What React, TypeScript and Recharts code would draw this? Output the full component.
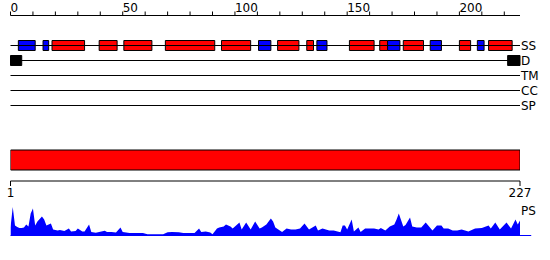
import React from "react";
import {
  ComposedChart,
  BarChart,
  Bar,
  AreaChart,
  Area,
  XAxis,
  YAxis,
  ReferenceArea,
  ReferenceLine,
} from "recharts";

// residue ruler on top
const rulerDomain = [0, 227];
const rulerTicks = [0, 10, 20, 30, 40, 50, 60, 70, 80, 90, 100, 110, 120, 130, 140, 150, 160, 170, 180, 190, 200, 210, 220];

// feature rows (top to bottom)
const rowNames = ["SS", "D", "TM", "CC", "SP"];
const rowLevels = [5, 4, 3, 2, 1];

// secondary structure: helices (red) and strands (blue), [start, end]
const helixSegments: [number, number][] = [
  [18.5, 33], [39.5, 47.5], [50.5, 63], [69, 91], [94, 107], [119, 128.5],
  [132, 135], [151, 162], [164.5, 168], [175, 184], [200, 205], [213, 223.5],
];
const strandSegments: [number, number][] = [
  [3.5, 11], [14.5, 17], [110.5, 116], [136.5, 141], [168, 173.5], [187, 192], [208, 211],
];
// disorder
const disorderSegments: [number, number][] = [[0, 5], [221.5, 227]];

// full sequence bar
const seqRange = [1, 227];
const seqTicks = [1, 227];

// PS profile
const psPositions = [
  0, 1, 2, 3, 4, 5, 6, 7, 8, 9, 10, 11, 12, 14, 15, 16, 18, 19, 21, 22, 24, 26, 27, 29, 30,
  32, 33, 35, 36, 38, 42, 43, 45, 47, 49, 50, 53, 56, 59, 61, 64, 68, 70, 72, 75, 77, 80, 82,
  84, 85, 87, 89, 90, 92, 93, 95, 96, 98, 99, 102, 103, 105, 107, 109, 111, 112, 114, 116, 117,
  118, 121, 123, 125, 127, 129, 131, 133, 136, 137, 139, 142, 144, 147, 148, 149, 150, 152, 153,
  155, 156, 158, 160, 162, 164, 165, 167, 169, 171, 172, 173, 175, 176, 178, 179, 181, 183, 185,
  188, 190, 192, 193, 195, 197, 199, 201, 204, 207, 210, 213, 214, 216, 218, 221, 223, 225, 226, 227,
];
const psScores = [
  0.27, 0.95, 0.33, 0.28, 0.25, 0.25, 0.27, 0.37, 0.3, 0.73, 0.9, 0.33, 0.47, 0.63, 0.53, 0.33,
  0.4, 0.2, 0.17, 0.18, 0.15, 0.23, 0.13, 0.15, 0.23, 0.13, 0.13, 0.37, 0.12, 0.09, 0.16, 0.12,
  0.12, 0.1, 0.27, 0.12, 0.08, 0.08, 0.08, 0.04, 0.04, 0.04, 0.11, 0.12, 0.11, 0.08, 0.08, 0.08,
  0.23, 0.12, 0.13, 0.1, 0.04, 0.23, 0.27, 0.3, 0.37, 0.3, 0.23, 0.43, 0.2, 0.43, 0.2, 0.47, 0.23,
  0.27, 0.37, 0.57, 0.47, 0.27, 0.12, 0.23, 0.2, 0.2, 0.23, 0.4, 0.2, 0.33, 0.17, 0.23, 0.17, 0.17,
  0.11, 0.33, 0.33, 0.2, 0.53, 0.13, 0.27, 0.12, 0.23, 0.23, 0.23, 0.2, 0.25, 0.17, 0.3, 0.37, 0.53,
  0.73, 0.3, 0.35, 0.6, 0.3, 0.27, 0.27, 0.43, 0.17, 0.33, 0.33, 0.23, 0.23, 0.17, 0.17, 0.2, 0.13,
  0.23, 0.25, 0.33, 0.23, 0.43, 0.2, 0.43, 0.23, 0.53, 0.37, 0.5,
];
const psLabelLevel = 0.82;

const RED = "#ff0000";
const BLUE = "#0000ff";
const BLACK = "#000000";

function RulerTick(props: any) {
  const { x, y, payload } = props;
  if (payload.value % 50 !== 0) return <g />;
  return (
    <text x={x} y={y} textAnchor="start" fill={BLACK} fontSize={12}>
      {payload.value}
    </text>
  );
}

function rowName(v: number): string {
  return rowNames[rowLevels.indexOf(v)] ?? "";
}

export default function App() {
  const psData = psPositions.map((pos, i) => ({ pos, score: psScores[i] }));
  const rulerData = rulerTicks.map((pos) => ({ pos }));
  const seqData = [{ name: "seq", span: seqRange }];
  const ssLevel = rowLevels[0];
  const dLevel = rowLevels[1];
  const half = 0.333;

  return (
    <div
      style={{
        position: "absolute",
        left: 0,
        top: 0,
        width: 550,
        height: 260,
        background: "#fff",
        fontFamily: "'DejaVu Sans', sans-serif",
        fontSize: 12,
      }}
    >
      <div style={{ position: "absolute", left: 0, top: 0 }}>
        <ComposedChart width={550} height={121} data={rulerData} margin={{ top: 0, right: 0, left: 10.5, bottom: 0.5 }}>
          <XAxis
            type="number"
            dataKey="pos"
            orientation="top"
            domain={rulerDomain}
            ticks={rulerTicks}
            interval={0}
            allowDataOverflow
            height={15.5}
            tickSize={4}
            tickMargin={0}
            tick={<RulerTick />}
            axisLine={{ stroke: BLACK }}
            tickLine={{ stroke: BLACK }}
          />
          <YAxis
            type="number"
            orientation="right"
            domain={[0, 7]}
            ticks={rowLevels}
            interval={0}
            allowDataOverflow
            width={30}
            axisLine={false}
            tickLine={false}
            tickSize={0}
            tickMargin={1}
            tickFormatter={rowName}
            tick={{ fill: BLACK, fontSize: 12 }}
          />
          {rowLevels.map((lv) => (
            <ReferenceLine key={"row" + lv} y={lv} stroke={BLACK} strokeWidth={1} />
          ))}
          {helixSegments.map(([s, e], i) => (
            <ReferenceArea
              key={"h" + i}
              x1={s}
              x2={e}
              y1={ssLevel - half}
              y2={ssLevel + half}
              fill={RED}
              fillOpacity={1}
              stroke={BLACK}
              strokeWidth={1}
              ifOverflow="visible"
            />
          ))}
          {strandSegments.map(([s, e], i) => (
            <ReferenceArea
              key={"s" + i}
              x1={s}
              x2={e}
              y1={ssLevel - half}
              y2={ssLevel + half}
              fill={BLUE}
              fillOpacity={1}
              stroke={BLACK}
              strokeWidth={1}
              ifOverflow="visible"
            />
          ))}
          {disorderSegments.map(([s, e], i) => (
            <ReferenceArea
              key={"d" + i}
              x1={s}
              x2={e}
              y1={dLevel - half}
              y2={dLevel + half}
              fill={BLACK}
              fillOpacity={1}
              stroke={BLACK}
              strokeWidth={1}
              ifOverflow="visible"
            />
          ))}
        </ComposedChart>
      </div>

      <div style={{ position: "absolute", left: 0, top: 139 }}>
        <BarChart
          width={550}
          height={67}
          layout="vertical"
          data={seqData}
          margin={{ top: 0, right: 30, left: 10.5, bottom: 0 }}
        >
          <XAxis
            type="number"
            domain={seqRange}
            ticks={seqTicks}
            interval={0}
            allowDataOverflow
            height={25}
            tickSize={5}
            tickMargin={2}
            axisLine={{ stroke: BLACK }}
            tickLine={{ stroke: BLACK }}
            tick={{ fill: BLACK, fontSize: 12 }}
          />
          <YAxis type="category" dataKey="name" hide />
          <Bar dataKey="span" fill={RED} stroke={BLACK} strokeWidth={1} barSize={20} isAnimationActive={false} />
        </BarChart>
      </div>

      <div style={{ position: "absolute", left: 0, top: 200 }}>
        <AreaChart width={550} height={40} data={psData} margin={{ top: 5.5, right: 0, left: 10.5, bottom: 4.5 }}>
          <XAxis type="number" dataKey="pos" domain={rulerDomain} allowDataOverflow hide />
          <YAxis
            type="number"
            orientation="right"
            domain={[0, 1]}
            ticks={[psLabelLevel]}
            allowDataOverflow
            width={30}
            axisLine={false}
            tickLine={false}
            tickSize={0}
            tickMargin={1}
            tickFormatter={() => "PS"}
            tick={{ fill: BLACK, fontSize: 12 }}
          />
          <Area
            type="linear"
            dataKey="score"
            fill={BLUE}
            fillOpacity={1}
            stroke="none"
            isAnimationActive={false}
          />
          <ReferenceLine
            segment={[{ x: 0, y: 0 }, { x: 232, y: 0 }]}
            stroke={BLUE}
            strokeWidth={1}
            ifOverflow="visible"
          />
        </AreaChart>
      </div>
    </div>
  );
}
